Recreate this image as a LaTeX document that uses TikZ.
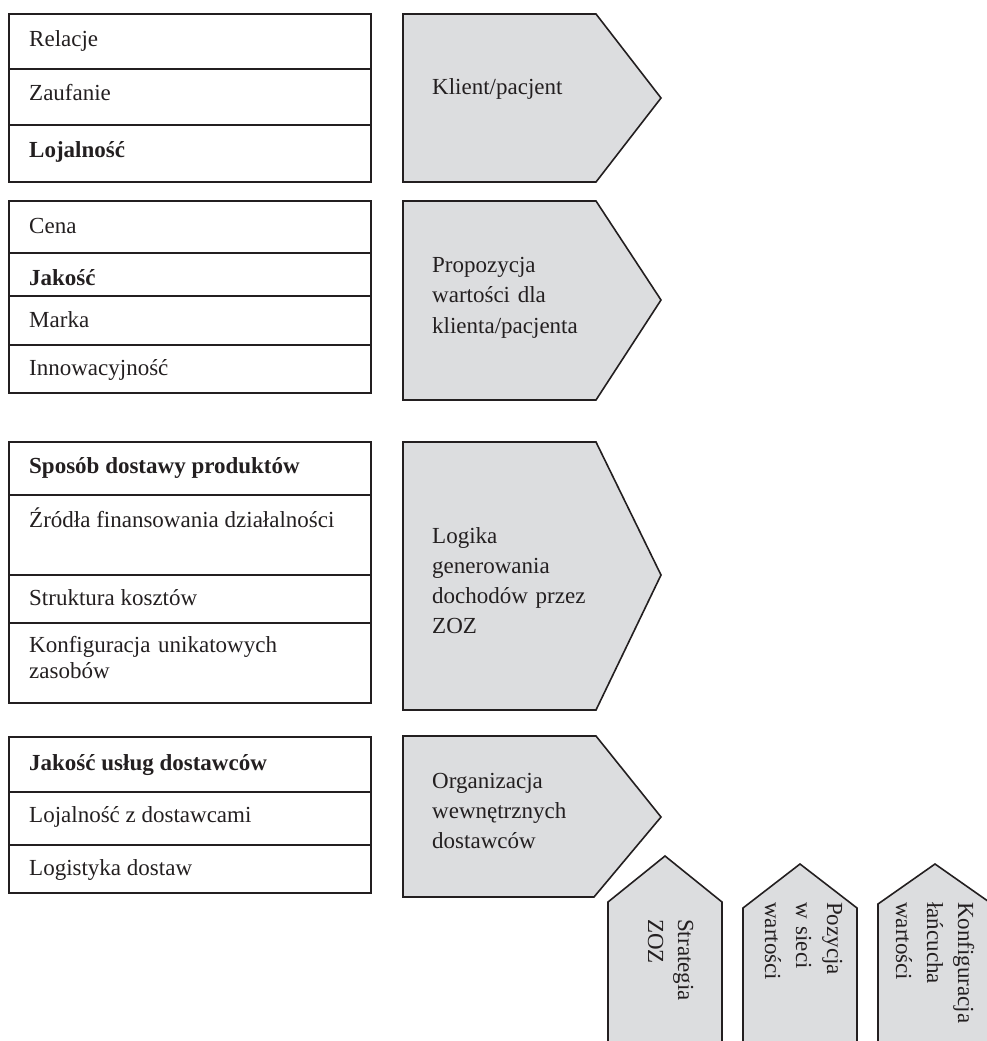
\documentclass[tikz,border=0pt]{standalone}
\usepackage{fontspec}
\setmainfont{Liberation Serif}
\definecolor{ink}{RGB}{35,31,32}
\definecolor{pfill}{RGB}{220,221,223}
\begin{document}
\begin{tikzpicture}[x=1pt,y=-1pt,
  rowbox/.style={draw=ink, line width=1.7pt},
  pent/.style={draw=ink, fill=pfill, line width=1.6pt, line join=miter},
  lbl/.style={anchor=base west, inner sep=0pt, font=\fontsize{23}{30}\selectfont, text=ink},
  mlbl/.style={lbl, align=left, text width=300pt},
  vlbl/.style={lbl, align=left, text width=200pt, rotate=-90, font=\fontsize{23}{31}\selectfont}]
\useasboundingbox (0,0) rectangle (987,1041);
\clip (0,0) rectangle (987,1041);
% group 1
\draw[rowbox] (9,14) rectangle (371,69);
\draw[rowbox] (9,69) rectangle (371,125);
\draw[rowbox] (9,125) rectangle (371,182);
\node[lbl] (t11) at (29,47) {Relacje};
\node[lbl] (t12) at (29,100) {Zaufanie};
\node[lbl] (t13) at (29,157) {\textbf{Lojalność}};
% group 2
\draw[rowbox] (9,201) rectangle (371,253);
\draw[rowbox] (9,253) rectangle (371,296);
\draw[rowbox] (9,296) rectangle (371,345);
\draw[rowbox] (9,345) rectangle (371,393);
\node[lbl] (t21) at (29,233) {Cena};
\node[lbl] (t22) at (29,285) {\textbf{Jakość}};
\node[lbl] (t23) at (29,327) {Marka};
\node[lbl] (t24) at (29,375) {Innowacyjność};
% group 3
\draw[rowbox] (9,442) rectangle (371,495);
\draw[rowbox] (9,495) rectangle (371,575);
\draw[rowbox] (9,575) rectangle (371,623);
\draw[rowbox] (9,623) rectangle (371,703);
\node[lbl] (t31) at (29,473) {\textbf{Sposób dostawy produktów}};
\node[lbl] (t32) at (29,527) {Źródła finansowania działalności};
\node[lbl] (t33) at (29,605) {Struktura kosztów};
\node[mlbl, font=\fontsize{23}{26.5}\selectfont] (t34) at (29,652) {Konfiguracja unikatowych\\zasobów};
% group 4
\draw[rowbox] (9,737) rectangle (371,792);
\draw[rowbox] (9,792) rectangle (371,845);
\draw[rowbox] (9,845) rectangle (371,893);
\node[lbl] (t41) at (29,770) {\textbf{Jakość usług dostawców}};
\node[lbl] (t42) at (29,822) {Lojalność z dostawcami};
\node[lbl] (t43) at (29,875) {Logistyka dostaw};
% right-pointing pentagons
\draw[pent] (403,14) -- (596,14) -- (661,98) -- (596,182) -- (403,182) -- cycle;
\node[lbl] (p1) at (432,95) {Klient/pacjent};
\draw[pent] (403,201) -- (596,201) -- (661,300) -- (596,400) -- (403,400) -- cycle;
\node[mlbl, font=\fontsize{23}{30.5}\selectfont] (p2) at (432,272) {Propozycja\\wartości dla\\klienta/pacjenta};
\draw[pent] (403,442) -- (596,442) -- (661,575) -- (596,710) -- (403,710) -- cycle;
\node[mlbl] (p3) at (432,543) {Logika\\generowania\\dochodów przez\\ZOZ};
\draw[pent] (403,736) -- (596,736) -- (661,817) -- (594,897) -- (403,897) -- cycle;
\node[mlbl] (p4) at (432,788) {Organizacja\\wewnętrznych\\dostawców};
% up-pointing pentagons
\draw[pent] (608,1060) -- (608,902) -- (665,856) -- (722,902) -- (722,1060);
\node[vlbl, font=\fontsize{23}{30}\selectfont] (v1) at (678,919) {Strategia\\ZOZ};
\draw[pent] (743,1060) -- (743,908) -- (800,864) -- (857,908) -- (857,1060);
\node[vlbl] (v2) at (827,902) {Pozycja\\w sieci\\wartości};
\draw[pent] (878,1060) -- (878,904) -- (935,864) -- (992,904) -- (992,1060);
\node[vlbl] (v3) at (958,902) {Konfiguracja\\łańcucha\\wartości};
\end{tikzpicture}
\end{document}
